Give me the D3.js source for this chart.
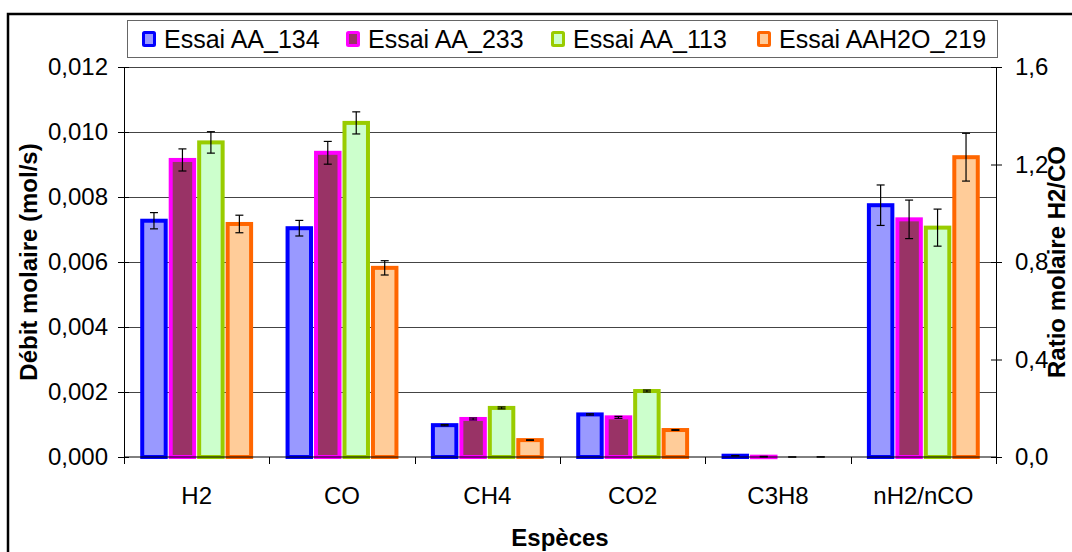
<!DOCTYPE html>
<html>
<head>
<meta charset="utf-8">
<script src="https://cdn.jsdelivr.net/npm/d3@7"></script>
<style>
  html, body { margin: 0; padding: 0; background: #fff; }
  svg { display: block; font-family: "Liberation Sans", Arial, sans-serif; }
</style>
</head>
<body>
<svg id="chart" width="1072" height="552"></svg>
<script>
// Species on the x axis; the last group is a molar ratio read on the right axis
const categories = ["H2", "CO", "CH4", "CO2", "C3H8", "nH2/nCO"];
const seriesNames = ["Essai AA_134", "Essai AA_233", "Essai AA_113", "Essai AAH2O_219"];

// Molar flow (mol/s) for H2, CO, CH4, CO2, C3H8, then H2/CO ratio
const essaiAA134 = [0.00727, 0.00704, 0.00098, 0.00131, 0.00004, 1.033];
const essaiAA233 = [0.00914, 0.00936, 0.00117, 0.00122, 0.00001, 0.975];
const essaiAA113 = [0.00968, 0.01028, 0.00151, 0.00203, 0.0, 0.941];
const essaiAAH2O219 = [0.00717, 0.00582, 0.00052, 0.00083, 0.0, 1.230];

// Error bar half-widths, same order
const errAA134 = [0.00025, 0.00024, 0.00002, 0.00002, 0.000005, 0.083];
const errAA233 = [0.00034, 0.00035, 0.00003, 0.00003, 0.00001, 0.079];
const errAA113 = [0.00033, 0.00034, 0.00003, 0.00003, 0.0, 0.076];
const errAAH2O219 = [0.00027, 0.00022, 0.00001, 0.00001, 0.000005, 0.098];

const leftTicks = [0, 0.002, 0.004, 0.006, 0.008, 0.010, 0.012];
const rightTicks = [0, 0.4, 0.8, 1.2, 1.6];

const seriesValues = [essaiAA134, essaiAA233, essaiAA113, essaiAAH2O219];
const seriesErrors = [errAA134, errAA233, errAA113, errAAH2O219];
const strokeColors = ["#0000FF", "#FF00FF", "#99CC00", "#FF6600"];
const fillColors = ["#9999FF", "#993366", "#CCFFCC", "#FFCC99"];

const svg = d3.select("#chart");
const plot = { left: 124, right: 996, top: 67, bottom: 457 };
const FONT = 24;
const fmtLeft = v => d3.format(".3f")(v).replace(".", ",");
const fmtRight = v => d3.format(".1f")(v).replace(".", ",");

const x0 = d3.scaleBand().domain(categories).range([plot.left, plot.right]).padding(0);
const x1 = d3.scaleBand().domain(seriesNames).range([0, x0.bandwidth()])
  .paddingInner(0.035).paddingOuter(0.57);
const yL = d3.scaleLinear().domain([0, 0.012]).range([plot.bottom, plot.top]);
const yR = d3.scaleLinear().domain([0, 1.6]).range([plot.bottom, plot.top]);

// Outer chart frame (runs off the page on the right and bottom)
svg.append("rect").attr("x", 8).attr("y", 14).attr("width", 1100).attr("height", 600)
  .attr("fill", "#fff").attr("stroke", "#000").attr("stroke-width", 2.5);

// Horizontal gridlines on the left-axis ticks
svg.append("g").selectAll("line").data(leftTicks.filter(t => t > 0)).join("line")
  .attr("x1", plot.left).attr("x2", plot.right)
  .attr("y1", d => Math.round(yL(d)) + 0.5).attr("y2", d => Math.round(yL(d)) + 0.5)
  .attr("stroke", "#444").attr("stroke-width", 1);

// Bars
const rows = [];
categories.forEach((c, ci) => {
  seriesNames.forEach((s, si) => {
    rows.push({ cat: c, ser: s, si, v: seriesValues[si][ci], e: seriesErrors[si][ci],
      y: ci === categories.length - 1 ? yR : yL });
  });
});
const SW = 4;
svg.append("g").selectAll("rect").data(rows.filter(d => d.v > 0)).join("rect")
  .attr("x", d => x0(d.cat) + x1(d.ser) + SW / 2)
  .attr("width", x1.bandwidth() - SW)
  .attr("y", d => d.y(d.v))
  .attr("height", d => Math.max(0.5, d.y(0) - d.y(d.v)))
  .attr("fill", d => fillColors[d.si])
  .attr("stroke", d => strokeColors[d.si])
  .attr("stroke-width", SW);

// Error bars
const eg = svg.append("g").attr("stroke", "#000").attr("stroke-width", 1.2);
rows.forEach(d => {
  const cx = x0(d.cat) + x1(d.ser) + x1.bandwidth() / 2;
  const yTop = d.y(d.v + d.e), yBot = d.y(Math.max(0, d.v - d.e));
  eg.append("line").attr("x1", cx).attr("x2", cx).attr("y1", yTop).attr("y2", yBot);
  eg.append("line").attr("x1", cx - 4).attr("x2", cx + 4).attr("y1", yTop).attr("y2", yTop);
  eg.append("line").attr("x1", cx - 4).attr("x2", cx + 4).attr("y1", yBot).attr("y2", yBot);
});

// Left axis
const axL = svg.append("g").attr("transform", `translate(${plot.left},0)`)
  .call(d3.axisLeft(yL).tickValues(leftTicks).tickFormat(fmtLeft).tickSizeInner(6).tickSizeOuter(0).tickPadding(10));
axL.select(".domain").attr("stroke", "#000");
axL.selectAll(".tick line").attr("stroke", "#000").attr("x2", -6).clone().attr("x2", 5);
axL.selectAll("text").attr("font-size", FONT).attr("font-family", "Liberation Sans, Arial").attr("fill", "#000");

// Right axis
const axR = svg.append("g").attr("transform", `translate(${plot.right},0)`)
  .call(d3.axisRight(yR).tickValues(rightTicks).tickFormat(fmtRight).tickSizeInner(6).tickSizeOuter(0).tickPadding(13));
axR.select(".domain").attr("stroke", "#000");
axR.selectAll(".tick line").attr("stroke", "#000").attr("x2", 6).clone().attr("x2", -5);
axR.selectAll("text").attr("font-size", FONT).attr("font-family", "Liberation Sans, Arial").attr("fill", "#000");

// X axis: baseline plus ticks at category boundaries
svg.append("line").attr("x1", plot.left).attr("x2", plot.right)
  .attr("y1", plot.bottom).attr("y2", plot.bottom).attr("stroke", "#000");
const bounds = categories.map(c => x0(c)).concat([plot.right]);
svg.append("g").selectAll("line").data(bounds).join("line")
  .attr("x1", d => Math.round(d) + 0.5).attr("x2", d => Math.round(d) + 0.5)
  .attr("y1", plot.bottom).attr("y2", plot.bottom + 7).attr("stroke", "#000");
svg.append("g").selectAll("text").data(categories).join("text")
  .attr("x", d => x0(d) + x0.bandwidth() / 2).attr("y", 504)
  .attr("text-anchor", "middle").attr("font-size", FONT).text(d => d);

// Axis titles
svg.append("text").attr("x", plot.left + (plot.right - plot.left) / 2).attr("y", 546)
  .attr("text-anchor", "middle").attr("font-size", FONT).attr("font-weight", "bold").text("Espèces");
svg.append("text").attr("transform", `translate(37,${(plot.top + plot.bottom) / 2}) rotate(-90)`)
  .attr("text-anchor", "middle").attr("font-size", FONT).attr("font-weight", "bold")
  .text("Débit molaire (mol/s)");
svg.append("text").attr("transform", `translate(1065,${(plot.top + plot.bottom) / 2}) rotate(-90)`)
  .attr("text-anchor", "middle").attr("font-size", FONT).attr("font-weight", "bold")
  .text("Ratio molaire H2/CO");

// Legend
const lg = svg.append("g");
lg.append("rect").attr("x", 127.5).attr("y", 20.5).attr("width", 870).attr("height", 37)
  .attr("fill", "#fff").attr("stroke", "#666").attr("stroke-width", 1);
const legendX = [142, 346, 551, 757];
seriesNames.forEach((s, i) => {
  lg.append("rect").attr("x", legendX[i] + 1.5).attr("y", 32.5).attr("width", 11).attr("height", 13)
    .attr("fill", fillColors[i]).attr("stroke", strokeColors[i]).attr("stroke-width", 3).attr("rx", 1);
  lg.append("text").attr("x", legendX[i] + 22).attr("y", 48).attr("font-size", 25).text(s);
});
</script>
</body>
</html>
